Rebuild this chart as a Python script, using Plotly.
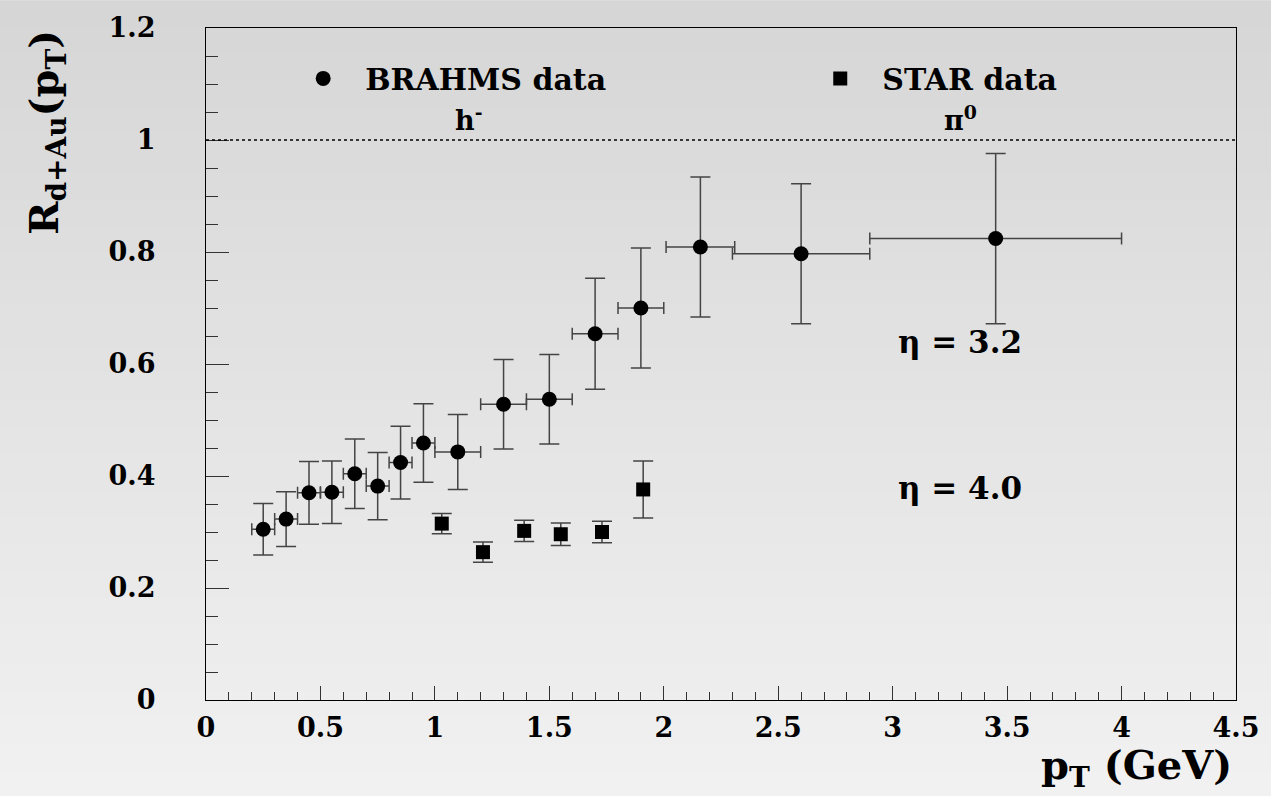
import plotly.graph_objects as go

# BRAHMS h- data
brahms_pt = [0.25, 0.35, 0.45, 0.55, 0.65, 0.75, 0.85, 0.95, 1.10, 1.30, 1.50, 1.70, 1.90, 2.16, 2.60, 3.45]
brahms_r = [0.305, 0.323, 0.370, 0.371, 0.404, 0.382, 0.424, 0.459, 0.443, 0.528, 0.537, 0.654, 0.700, 0.809, 0.797, 0.824]
brahms_ey = [0.046, 0.049, 0.056, 0.056, 0.062, 0.060, 0.065, 0.070, 0.067, 0.080, 0.080, 0.099, 0.107, 0.125, 0.125, 0.152]
brahms_ex = [0.05, 0.05, 0.05, 0.05, 0.05, 0.05, 0.05, 0.05, 0.10, 0.10, 0.10, 0.10, 0.10, 0.15, 0.30, 0.55]

# STAR pi0 data
star_pt = [1.03, 1.21, 1.39, 1.55, 1.73, 1.91]
star_r = [0.315, 0.264, 0.302, 0.296, 0.300, 0.376]
star_ey = [0.018, 0.018, 0.019, 0.020, 0.019, 0.051]

x_ticks = [0, 0.5, 1, 1.5, 2, 2.5, 3, 3.5, 4, 4.5]
x_ticklabels = ["0", "0.5", "1", "1.5", "2", "2.5", "3", "3.5", "4", "4.5"]
y_ticks = [0, 0.2, 0.4, 0.6, 0.8, 1.0, 1.2]
y_ticklabels = ["0", "0.2", "0.4", "0.6", "0.8", "1", "1.2"]

FONT = "DejaVu Serif"
ERRC = "#444444"

fig = go.Figure()
fig.add_trace(go.Scatter(
    x=brahms_pt, y=brahms_r, mode="markers", name="BRAHMS data", legend="legend",
    marker=dict(symbol="circle", size=15, color="black"),
    error_y=dict(type="data", array=brahms_ey, color=ERRC, thickness=1.5, width=10),
    error_x=dict(type="data", array=brahms_ex, color=ERRC, thickness=1.5, width=6),
))
fig.add_trace(go.Scatter(
    x=star_pt, y=star_r, mode="markers", name="STAR data", legend="legend2",
    marker=dict(symbol="square", size=14, color="black"),
    error_y=dict(type="data", array=star_ey, color=ERRC, thickness=1.5, width=10),
))

# gradient background bands
shapes = []
n = 60
top_c = 0xd6
bot_c = 0xf1
y_top = 1.04
y_bot = -0.145
for i in range(n):
    f = i / (n - 1)
    c = int(round(top_c + (bot_c - top_c) * f))
    y1 = y_top - (y_top - y_bot) * i / n
    y0 = y_top - (y_top - y_bot) * (i + 1) / n
    shapes.append(dict(type="rect", xref="paper", yref="paper", x0=-0.21, x1=1.04,
                       y0=y0 - 0.001, y1=y1 + 0.001, line=dict(width=0),
                       fillcolor="rgb(%d,%d,%d)" % (c, c, c), layer="below"))
shapes.append(dict(type="line", xref="x", yref="y", x0=0, x1=4.5, y0=1.0, y1=1.0,
                   line=dict(color="black", width=1.5, dash="dot")))

axis_font = dict(family=FONT, size=27, color="black", weight="bold")
leg_font = dict(family=FONT, size=30, color="black", weight="bold")

def legend_box(x):
    return dict(orientation="h", x=x, y=0.925, xanchor="left", yanchor="middle",
                bgcolor="rgba(0,0,0,0)", font=leg_font, itemwidth=74)

ann_font = dict(family=FONT, size=31, color="black", weight="bold")
sup_font = dict(family=FONT, size=27, color="black", weight="bold")

fig.update_layout(
    width=1271, height=796,
    margin=dict(l=206, r=29, t=23, b=96),
    paper_bgcolor="#e4e4e4", plot_bgcolor="rgba(0,0,0,0)",
    shapes=shapes,
    showlegend=True,
    legend=legend_box(0.073),
    legend2=legend_box(0.575),
    xaxis=dict(range=[0, 4.5], tickmode="array", tickvals=x_ticks, ticktext=x_ticklabels,
               ticks="inside", ticklen=14, tickcolor="#333", tickwidth=1,
               showline=True, linecolor="black", linewidth=1.2, mirror=True,
               showgrid=False, zeroline=False, tickfont=axis_font, ticklabelstandoff=3,
               minor=dict(dtick=0.1, ticks="inside", ticklen=8, tickcolor="#333", tickwidth=1, showgrid=False)),
    yaxis=dict(range=[0, 1.2], tickmode="array", tickvals=y_ticks, ticktext=y_ticklabels,
               ticks="inside", ticklen=23, tickcolor="#333", tickwidth=1,
               showline=True, linecolor="black", linewidth=1.2, mirror=True,
               showgrid=False, zeroline=False, tickfont=axis_font, ticklabelstandoff=44,
               minor=dict(dtick=0.05, ticks="inside", ticklen=12, tickcolor="#333", tickwidth=1, showgrid=False)),
    annotations=[
        dict(text="h<sup>-</sup>", xref="paper", yref="paper", x=0.255, y=0.866, showarrow=False,
             xanchor="center", yanchor="middle", font=sup_font),
        dict(text="π<sup>0</sup>", xref="paper", yref="paper", x=0.733, y=0.866, showarrow=False,
             xanchor="center", yanchor="middle", font=sup_font),
        dict(text="η = 3.2", xref="paper", yref="paper", x=0.732, y=0.532, showarrow=False,
             xanchor="center", yanchor="middle", font=ann_font),
        dict(text="η = 4.0", xref="paper", yref="paper", x=0.732, y=0.315, showarrow=False,
             xanchor="center", yanchor="middle", font=ann_font),
        dict(text="p<sub>T</sub> (GeV)", xref="paper", yref="paper", x=0.998, y=-0.143,
             xanchor="right", yanchor="bottom", showarrow=False,
             font=dict(family=FONT, size=40, color="black", weight="bold")),
        dict(text="R<sub>d+Au</sub>(p<sub>T</sub>)", xref="paper", yref="paper", x=-0.155, y=1.0,
             xanchor="center", yanchor="top", textangle=-90, showarrow=False,
             font=dict(family=FONT, size=40, color="black", weight="bold")),
    ],
)

fig.write_html("out.html")
